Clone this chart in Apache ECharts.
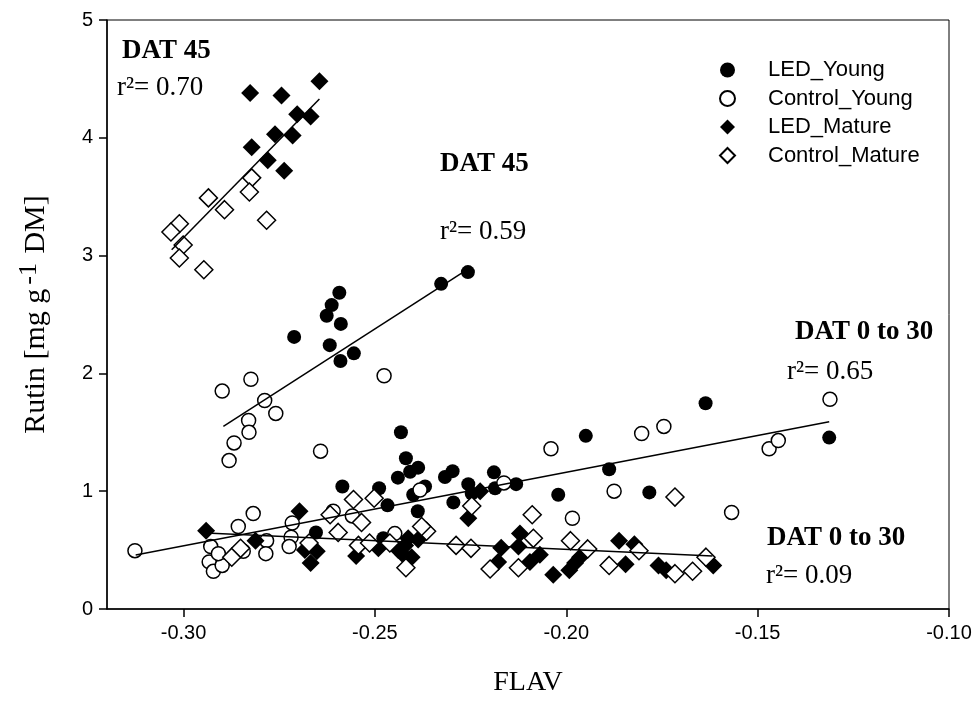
<!DOCTYPE html>
<html>
<head>
<meta charset="utf-8">
<title>Rutin vs FLAV</title>
<script src="https://cdn.jsdelivr.net/npm/echarts@6/dist/echarts.min.js"></script>
<style>
  html, body { margin: 0; padding: 0; background: #fff; }
  #container { width: 978px; height: 708px; }
</style>
</head>
<body>
<div id="container"></div>
<script>
// tick values on the FLAV axis
var xTicks = [-0.30, -0.25, -0.20, -0.15, -0.10];

// [FLAV, Rutin]
var ledYoung = [
  [-0.2593, 2.685], [-0.2613, 2.58], [-0.2626, 2.49], [-0.2589, 2.42], [-0.2711, 2.31],
  [-0.2618, 2.24], [-0.2555, 2.17], [-0.2590, 2.105], [-0.2327, 2.76], [-0.2257, 2.86],
  [-0.2432, 1.50], [-0.2419, 1.28], [-0.2387, 1.20], [-0.2408, 1.165], [-0.2440, 1.115],
  [-0.2585, 1.04], [-0.2489, 1.025], [-0.2369, 1.04], [-0.2400, 0.97], [-0.2467, 0.88],
  [-0.2388, 0.83], [-0.2317, 1.12], [-0.2297, 1.17], [-0.2256, 1.06], [-0.2189, 1.16],
  [-0.2295, 0.905], [-0.2186, 1.025], [-0.2131, 1.06], [-0.2247, 0.98], [-0.2021, 0.97],
  [-0.2654, 0.65], [-0.2478, 0.60], [-0.1636, 1.746], [-0.1949, 1.47], [-0.1888, 1.186],
  [-0.1783, 0.99], [-0.1313, 1.455]
];
var controlYoung = [
  [-0.2824, 1.95], [-0.2899, 1.85], [-0.2788, 1.77], [-0.2476, 1.98], [-0.2759, 1.66],
  [-0.2830, 1.60], [-0.2829, 1.50], [-0.2868, 1.41], [-0.2642, 1.34], [-0.2881, 1.26],
  [-0.3127, 0.495], [-0.2857, 0.70], [-0.2818, 0.81], [-0.2929, 0.53], [-0.2933, 0.40],
  [-0.2922, 0.32], [-0.2899, 0.37], [-0.2909, 0.47], [-0.2844, 0.49], [-0.2783, 0.58],
  [-0.2785, 0.47], [-0.2716, 0.73], [-0.2719, 0.61], [-0.2724, 0.53], [-0.2609, 0.83],
  [-0.2559, 0.79], [-0.2448, 0.64], [-0.2382, 1.01], [-0.2163, 1.07], [-0.2040, 1.36],
  [-0.1745, 1.55], [-0.1803, 1.49], [-0.1875, 1.00], [-0.1984, 0.77], [-0.1568, 0.82],
  [-0.1470, 1.36], [-0.1446, 1.43], [-0.1311, 1.78]
];
var ledMature = [
  [-0.2826, 4.38], [-0.2744, 4.36], [-0.2645, 4.48], [-0.2703, 4.20], [-0.2668, 4.18],
  [-0.2761, 4.03], [-0.2715, 4.02], [-0.2822, 3.92], [-0.2780, 3.81], [-0.2737, 3.72],
  [-0.2941, 0.665], [-0.2812, 0.58], [-0.2697, 0.83], [-0.2683, 0.50], [-0.2652, 0.49],
  [-0.2668, 0.39], [-0.2549, 0.45], [-0.2491, 0.515], [-0.2439, 0.50], [-0.2421, 0.54],
  [-0.2413, 0.60], [-0.2387, 0.59], [-0.2404, 0.44], [-0.2426, 0.46], [-0.2256, 0.77],
  [-0.2225, 1.00], [-0.2170, 0.52], [-0.2178, 0.40], [-0.2121, 0.64], [-0.2125, 0.53],
  [-0.2095, 0.40], [-0.2069, 0.46], [-0.2034, 0.29], [-0.1992, 0.33], [-0.1977, 0.39],
  [-0.1964, 0.44], [-0.1862, 0.58], [-0.1822, 0.55], [-0.1845, 0.38], [-0.1759, 0.37],
  [-0.1739, 0.33], [-0.1616, 0.37]
];
var controlMature = [
  [-0.2822, 3.66], [-0.2828, 3.54], [-0.2935, 3.49], [-0.2893, 3.39], [-0.2783, 3.30],
  [-0.3011, 3.27], [-0.3033, 3.20], [-0.3001, 3.09], [-0.3011, 2.98], [-0.2947, 2.88],
  [-0.2874, 0.44], [-0.2851, 0.515], [-0.2672, 0.56], [-0.2617, 0.80], [-0.2556, 0.93],
  [-0.2502, 0.94], [-0.2535, 0.735], [-0.2596, 0.65], [-0.2247, 0.875], [-0.2089, 0.80],
  [-0.2365, 0.66], [-0.2378, 0.70], [-0.2543, 0.54], [-0.2514, 0.56], [-0.2461, 0.56],
  [-0.2419, 0.35], [-0.2288, 0.54], [-0.2249, 0.515], [-0.2199, 0.34], [-0.2086, 0.60],
  [-0.2125, 0.35], [-0.1989, 0.58], [-0.1944, 0.51], [-0.1810, 0.495], [-0.1888, 0.37],
  [-0.1716, 0.30], [-0.1670, 0.32], [-0.1635, 0.44], [-0.1716, 0.95]
];

// regression lines, end points
var fitMature45 = [[-0.3031, 3.05], [-0.2645, 4.33]];
var fitYoung45 = [[-0.2896, 1.55], [-0.2255, 2.89]];
var fitYoung030 = [[-0.3125, 0.458], [-0.1313, 1.59]];
var fitMature030 = [[-0.2927, 0.643], [-0.1618, 0.45]];

var dom = document.getElementById('container');
var myChart = echarts.init(dom, null, { renderer: 'canvas' });

var serif = '"Liberation Serif", "Times New Roman", serif';
var sans = '"Liberation Sans", Arial, sans-serif';

function pointSeries(name, data, symbol, size, filled) {
  return {
    name: name,
    type: 'scatter',
    data: data,
    symbol: symbol,
    symbolSize: size,
    itemStyle: {
      color: filled ? '#000' : '#fff',
      borderColor: '#000',
      borderWidth: filled ? 0 : 1.5,
      opacity: 1
    },
    emphasis: { disabled: true },
    z: 3
  };
}

function fitSeries(data) {
  return {
    type: 'line',
    data: data,
    symbol: 'none',
    lineStyle: { color: '#000', width: 1.5 },
    silent: true,
    z: 4
  };
}

function note(text, x, y, bold) {
  return {
    type: 'text',
    x: x,
    y: y,
    style: {
      text: text,
      font: (bold ? 'bold ' : '') + '27px ' + serif,
      fill: '#000',
      textVerticalAlign: 'middle'
    },
    z: 10
  };
}

var option = {
  animation: false,
  backgroundColor: '#fff',
  grid: {
    left: 107, right: 29, top: 20, bottom: 99,
    show: true, borderColor: '#000', borderWidth: 1
  },
  legend: {
    orient: 'vertical',
    left: 719,
    top: 59,
    itemWidth: 15,
    itemHeight: 15,
    itemGap: 6.5,
    padding: 0,
    data: ['LED_Young', 'Control_Young', 'LED_Mature', 'Control_Mature'],
    formatter: function (name) { return '{g|}' + name; },
    textStyle: {
      fontFamily: sans,
      fontSize: 22,
      color: '#000',
      lineHeight: 22,
      rich: { g: { width: 28 } }
    }
  },
  xAxis: {
    type: 'value',
    min: -0.32,
    max: -0.10,
    name: 'FLAV',
    nameLocation: 'middle',
    nameGap: 60,
    nameTextStyle: { fontFamily: serif, fontSize: 28, color: '#000' },
    axisLine: { lineStyle: { color: '#000', width: 1.5 } },
    axisTick: { customValues: xTicks, length: 8, lineStyle: { color: '#000', width: 1.5 } },
    axisLabel: {
      customValues: xTicks,
      formatter: function (v) { return v.toFixed(2); },
      fontFamily: sans, fontSize: 20, color: '#000', margin: 14
    },
    splitLine: { show: false }
  },
  yAxis: {
    type: 'value',
    min: 0,
    max: 5,
    interval: 1,
    name: '{a|Rutin [mg g}{s|-1}{a| DM]}',
    nameLocation: 'middle',
    nameGap: 50,
    nameRotate: 90,
    nameTextStyle: {
      rich: {
        a: { fontFamily: serif, fontSize: 30, color: '#000' },
        s: { fontFamily: serif, fontSize: 26, color: '#000', padding: [0, 2, 15, 4] }
      }
    },
    axisLine: { show: true, lineStyle: { color: '#000', width: 1.5 } },
    axisTick: { show: true, length: 8, lineStyle: { color: '#000', width: 1.5 } },
    axisLabel: { fontFamily: sans, fontSize: 20, color: '#000', margin: 14 },
    splitLine: { show: false }
  },
  graphic: [
    note('DAT 45', 122, 51, true),
    note('r\u00b2= 0.70', 117, 88, false),
    note('DAT 45', 440, 164, true),
    note('r\u00b2= 0.59', 440, 232, false),
    note('DAT 0 to 30', 795, 332, true),
    note('r\u00b2= 0.65', 787, 372, false),
    note('DAT 0 to 30', 767, 538, true),
    note('r\u00b2= 0.09', 766, 576, false)
  ],
  series: [
    pointSeries('LED_Young', ledYoung, 'circle', 14, true),
    pointSeries('Control_Young', controlYoung, 'circle', 14, false),
    pointSeries('LED_Mature', ledMature, 'diamond', 18, true),
    pointSeries('Control_Mature', controlMature, 'diamond', 18, false),
    fitSeries(fitMature45),
    fitSeries(fitYoung45),
    fitSeries(fitYoung030),
    fitSeries(fitMature030)
  ]
};

myChart.setOption(option);
window.addEventListener('resize', myChart.resize);
</script>
</body>
</html>
